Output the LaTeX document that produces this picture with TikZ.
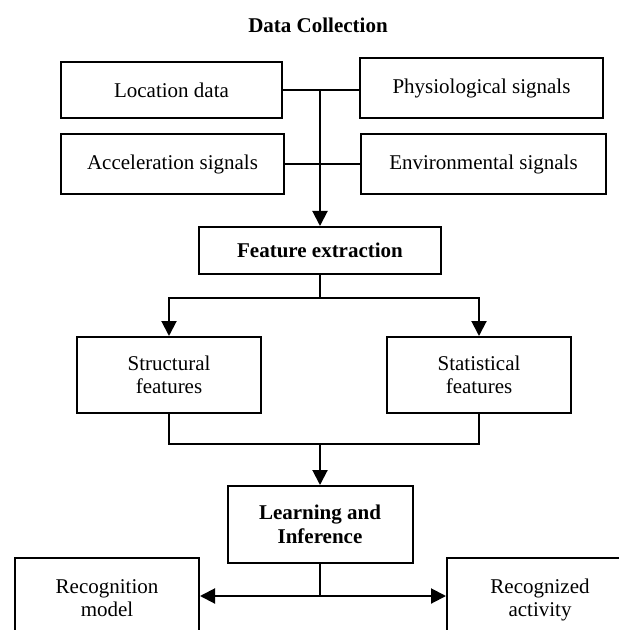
\documentclass[tikz,border=0pt]{standalone}
\usepackage{fontspec}
\setmainfont{Liberation Serif}
\usetikzlibrary{arrows.meta}
\tikzset{>={Triangle[length=7.5pt,width=7.5pt]},every node/.style={font=\fontsize{10.5}{11.8}\selectfont},box/.style={draw,line width=1pt,align=center,inner sep=0pt},flow/.style={line width=1pt,->},edge/.style={line width=1pt}}

\begin{document}
\begin{tikzpicture}[x=.5pt,y=-.5pt]
\useasboundingbox (0,0) rectangle (619,630);
\node (title) at (318,25){\textbf{Data Collection}};
\foreach \n/\x/\y/\w/\h/\t in {loc/171.5/90/110.5/28/Location data,phys/481.5/88/121.5/30/Physiological signals,acc/172.5/164/111.5/30/Acceleration signals,env/483.5/164/122.5/30/Environmental signals}{\node[box,minimum width=\w pt,minimum height=\h pt] (\n) at (\x,\y){\t};}
\node[box,minimum width=121pt,minimum height=23.5pt] (feat) at (320,250.5){\textbf{Feature extraction}};
\node[box,minimum width=92pt,minimum height=38pt] (struct) at (169,375){Structural\\features};
\node[box,minimum width=92pt,minimum height=38pt] (stat) at (479,375){Statistical\\features};
\node[box,minimum width=92.5pt,minimum height=38.5pt] (learn) at (320,524.5){\textbf{Learning and}\\\textbf{Inference}};
\node[box,minimum width=92pt,minimum height=40pt] (recm) at (107,598){Recognition\\model};
\node[box,minimum width=93pt,minimum height=42pt] (reca) at (540,600){Recognized\\activity};
% junctions
\coordinate (split) at (320,298);\coordinate (merge) at (320,444);\coordinate (fork) at (320,596);
\draw[edge] (loc.east) -- (loc.east -| phys.west);
\draw[edge] (acc.east) -- (acc.east -| env.west);
\draw[flow] (loc.east -| feat.north) -- (feat.north);
\draw[edge] (feat.south) -- (split);\draw[flow] (split) -| (struct.north);\draw[flow] (split) -| (stat.north);
\draw[edge] (struct.south) |- (merge) -| (stat.south);
\draw[flow] (merge) -- (learn.north);
\draw[edge] (learn.south) -- ([yshift=-.5pt]fork);
\draw[flow] (fork) -- (fork -| recm.east);\draw[flow] (fork) -- (fork -| reca.west);
\end{tikzpicture}
\end{document}
